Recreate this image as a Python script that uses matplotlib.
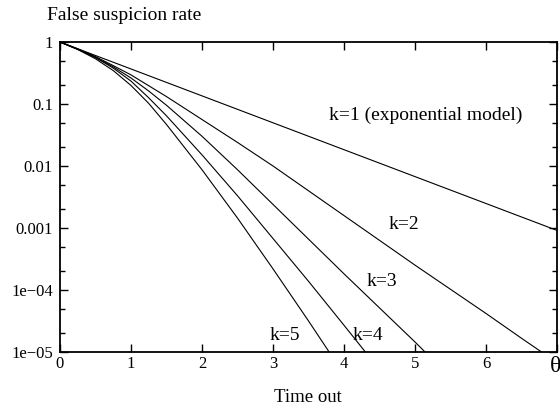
import numpy as np
import matplotlib
matplotlib.use("Agg")
import matplotlib.pyplot as plt
from matplotlib.ticker import LogLocator, FixedLocator, NullFormatter

plt.rcParams['font.family'] = ['Liberation Serif', 'DejaVu Serif']

# Valores (exponente en base 10 de la tasa)
x_k1 = [0, 7]
log_k1 = [0, -3.04]

x_k2 = [0, 0.25, 0.5, 0.75, 1, 1.5, 2, 2.5, 3, 3.5, 4, 4.5, 5, 5.5, 6, 6.5, 6.78]
log_k2 = [0, -0.11, -0.235, -0.38, -0.53, -0.88, -1.25, -1.62, -2.0, -2.4,
          -2.8, -3.2, -3.6, -3.99, -4.38, -4.78, -5.0]

x_k3 = [0, 0.25, 0.5, 0.75, 1, 1.25, 1.5, 2, 2.5, 3, 3.5, 4, 4.5, 5, 5.14]
log_k3 = [0, -0.115, -0.245, -0.40, -0.58, -0.79, -1.02, -1.52, -2.06, -2.62,
          -3.18, -3.74, -4.29, -4.84, -5.0]

x_k4 = [0, 0.25, 0.5, 0.75, 1, 1.25, 1.5, 2, 2.5, 3, 3.5, 4, 4.3]
log_k4 = [0, -0.117, -0.25, -0.42, -0.63, -0.90, -1.19, -1.82, -2.48, -3.17,
          -3.86, -4.57, -5.0]

x_k5 = [0, 0.25, 0.5, 0.75, 1, 1.25, 1.5, 2, 2.5, 3, 3.5, 3.79]
log_k5 = [0, -0.12, -0.27, -0.46, -0.70, -0.99, -1.33, -2.06, -2.84, -3.66,
          -4.5, -5.0]

curvas = [(x_k1, log_k1), (x_k2, log_k2), (x_k3, log_k3), (x_k4, log_k4), (x_k5, log_k5)]

# Etiquetas de las curvas (x, tasa)
etiquetas = ['k=1 (exponential model)', 'k=2', 'k=3', 'k=4', 'k=5']
etiq_x = [5.15, 4.84, 4.53, 4.33, 3.17]
etiq_y = [10**-1.18, 10**-2.95, 10**-3.87, 10**-4.73, 10**-4.73]

xticks = [0, 1, 2, 3, 4, 5, 6, 7]
xtick_labels = ['0', '1', '2', '3', '4', '5', '6', '']
yticks = [1, 0.1, 0.01, 0.001, 1e-4, 1e-5]
ytick_labels = ['1', '0.1', '0.01', '0.001', '1e\u221204', '1e\u221205']

fig = plt.figure(figsize=(5.6, 4.12), dpi=100)
ax = fig.add_axes([0.107, 0.1456, 0.888, 0.7524])

for xs, ls in curvas:
    ax.plot(xs, np.power(10.0, ls), color='black', lw=0.8)

ax.set_yscale('log')
ax.set_xlim(0, 7)
ax.set_ylim(1e-5, 1)

ax.set_xticks(xticks)
ax.set_xticklabels(xtick_labels)
ax.yaxis.set_major_locator(FixedLocator(yticks))
ax.set_yticklabels(ytick_labels)
ax.yaxis.set_minor_locator(LogLocator(base=10, subs=(2, 5)))
ax.yaxis.set_minor_formatter(NullFormatter())

ax.tick_params(which='major', direction='in', length=6, width=1, top=True, right=True,
               labelsize=12)
ax.tick_params(which='minor', direction='in', length=3.5, width=1, right=True)
ax.tick_params(axis='y', pad=5)
ax.tick_params(axis='x', pad=3)
for s in ax.spines.values():
    s.set_linewidth(1.3)

# theta al final del eje x
ax.annotate('\u03b8', xy=(7, 1e-5), xytext=(-1, -3), textcoords='offset points',
            fontsize=17, ha='center', va='top', annotation_clip=False)

for t, xv, yv in zip(etiquetas, etiq_x, etiq_y):
    ax.text(xv, yv, t, fontsize=14, ha='center', va='center')

fig.text(0.084, 0.963, 'False suspicion rate', fontsize=14, ha='left', va='center')
fig.text(0.55, 0.034, 'Time out', fontsize=13.5, ha='center', va='center')

fig.savefig('out.png', dpi=100)
